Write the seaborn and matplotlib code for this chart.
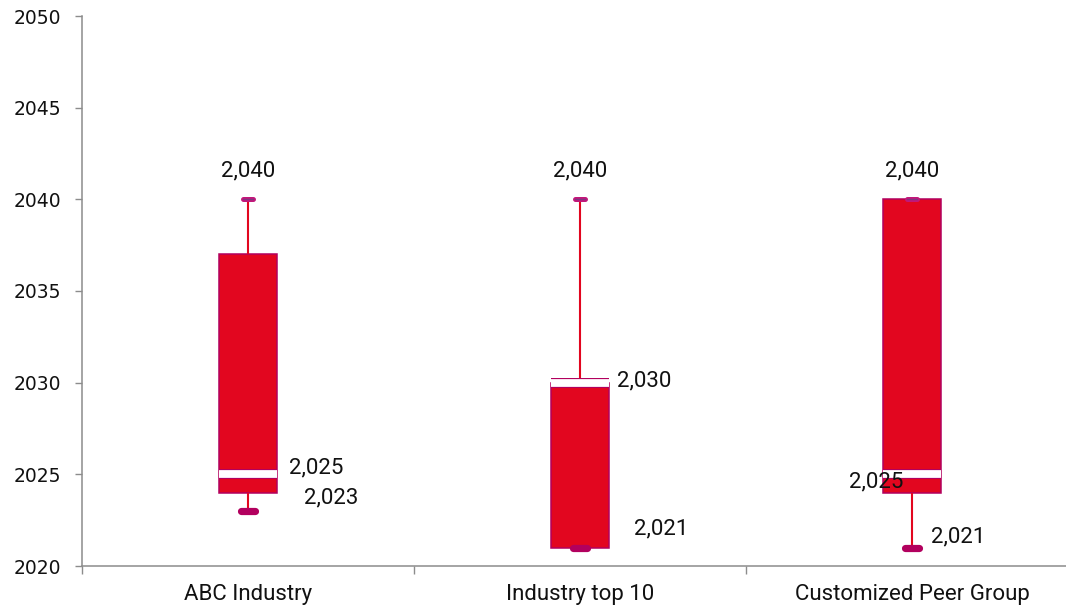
import matplotlib
matplotlib.use("Agg")
import matplotlib.pyplot as plt
import matplotlib.patheffects as pe
import numpy as np
import pandas as pd
import seaborn as sns

# Five-number summaries per group (years)
categories = ["ABC Industry", "Industry top 10", "Customized Peer Group"]
mins = [2023, 2021, 2021]
q1s = [2024, 2021, 2024]
medians = [2025, 2030, 2025]
q3s = [2037, 2030, 2040]
maxs = [2040, 2040, 2040]

y_ticks = [2020, 2025, 2030, 2035, 2040, 2045, 2050]

# Label placement (pixel offsets from the anchored value)
max_label_off = [(0, 23), (0, 23), (0, 23)]
median_label_off = [(41, 1), (37, -4), (-9, -13)]
median_label_ha = ["left", "left", "right"]
min_label_off = [(56, 8), (54, 13), (19, 5)]

RED = "#E2061F"
MAGENTA = "#B2005E"
PURPLE = "#7E3580"
GREY = "#8C8C8C"

rows = []
for cat, a, b, c, d, e in zip(categories, mins, q1s, medians, q3s, maxs):
    for v in (a, b, c, d, e):
        rows.append({"group": cat, "year": v})
df = pd.DataFrame(rows)

sns.set_theme(style="ticks")
plt.rcParams["font.family"] = ["Roboto", "DejaVu Sans"]

fig = plt.figure(figsize=(10.66, 6.06), dpi=100)
ax = fig.add_axes([82 / 1066, 40 / 606, 984 / 1066, 550 / 606])

sns.boxplot(
    data=df, x="group", y="year", order=categories, ax=ax,
    width=0.172, whis=(0, 100), saturation=1, color=RED,
    linecolor=MAGENTA, linewidth=1.1, showfliers=False,
    capwidths=0.032,
    boxprops=dict(facecolor=RED, edgecolor=MAGENTA, linewidth=1.1),
    whiskerprops=dict(color=RED, linewidth=1.5),
    capprops=dict(color=PURPLE, linewidth=1.0, solid_capstyle="round",
                  path_effects=[pe.Stroke(linewidth=3.6, foreground="#C2177A"),
                                pe.Normal()]),
    medianprops=dict(color="white", linewidth=5.6, solid_capstyle="butt",
                     path_effects=[pe.Stroke(linewidth=7.2, foreground=MAGENTA),
                                   pe.Normal()]),
)

# Rounded markers for the lower whisker ends
pos = np.arange(len(categories))
lc = ax.hlines(mins, pos - 0.02, pos + 0.02, colors=MAGENTA, linewidth=5.2, zorder=5)
lc.set_capstyle("round")

# Value labels
fmt = lambda v: f"{v:,.0f}"
for i in range(len(categories)):
    ax.annotate(fmt(maxs[i]), (pos[i], maxs[i]), xytext=max_label_off[i],
                textcoords="offset pixels", ha="center", va="baseline",
                fontsize=16, color="#111111")
    ax.annotate(fmt(medians[i]), (pos[i], medians[i]), xytext=median_label_off[i],
                textcoords="offset pixels", ha=median_label_ha[i], va="baseline",
                fontsize=16, color="#111111", zorder=6)
    ax.annotate(fmt(mins[i]), (pos[i], mins[i]), xytext=min_label_off[i],
                textcoords="offset pixels", ha="left", va="baseline",
                fontsize=16, color="#111111")

ax.set_xlim(-0.5, 2.464)
ax.set_ylim(2020, 2050)
ax.set_yticks(y_ticks)
ax.set_yticklabels([str(t) for t in y_ticks], family="DejaVu Sans", fontsize=13.5,
                   color="#111111")
ax.set_xticks(pos)
ax.set_xticklabels(categories, fontsize=16, color="#111111")
ax.set_xticks([-0.5, 0.5, 1.5], minor=True)
ax.tick_params(axis="x", which="major", length=0, pad=13)
ax.tick_params(axis="x", which="minor", length=6, width=1, color=GREY)
ax.tick_params(axis="y", length=5, width=1, color=GREY, pad=10)
ax.set_xlabel("")
ax.set_ylabel("")
for side in ("top", "right"):
    ax.spines[side].set_visible(False)
for side in ("left", "bottom"):
    ax.spines[side].set_color(GREY)
    ax.spines[side].set_linewidth(1.1)

fig.savefig("out.png", dpi=100)
